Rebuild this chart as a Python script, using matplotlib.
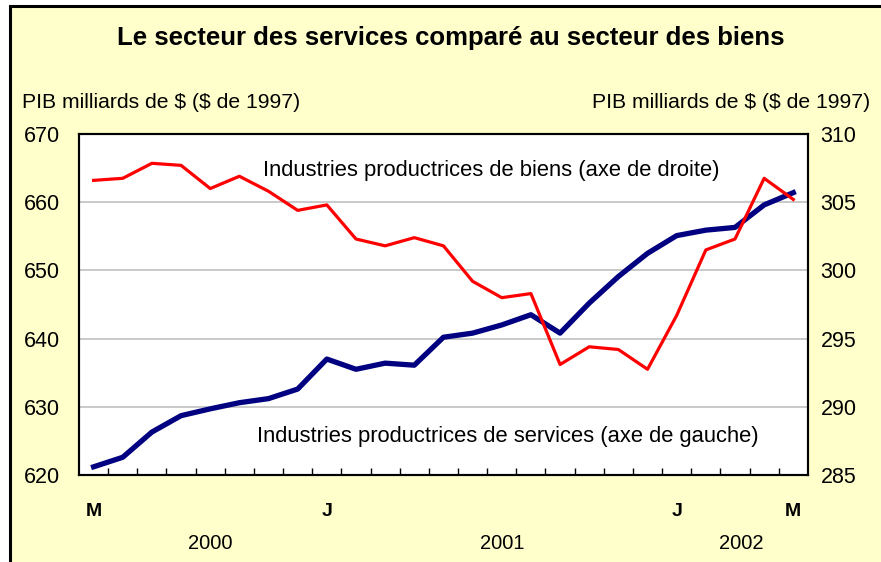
import matplotlib.pyplot as plt
import matplotlib.transforms as mtransforms
from matplotlib.patches import Rectangle
from matplotlib.lines import Line2D

plt.rcParams['font.family'] = ['Liberation Sans', 'DejaVu Sans']

# mai 2000 .. mai 2002, monthly
months = list(range(25))
services = [621.2, 622.6, 626.3, 628.7, 629.7, 630.6, 631.2, 632.6, 637.0,
            635.5, 636.4, 636.1, 640.2, 640.8, 642.0, 643.5, 640.8, 645.2,
            649.1, 652.5, 655.1, 655.9, 656.3, 659.6, 661.4]
biens = [306.6, 306.75, 307.85, 307.7, 306.0, 306.9, 305.8, 304.4, 304.8,
         302.3, 301.8, 302.4, 301.8, 299.2, 298.0, 298.3, 293.1, 294.4,
         294.2, 292.75, 296.7, 301.5, 302.3, 306.75, 305.2]
month_pos = [0, 8, 20, 24]
month_labels = ['M', 'J', 'J', 'M']
year_pos = [4.0, 14.0, 22.2]
year_labels = ['2000', '2001', '2002']

bg = '#FFFFCC'
fig = plt.figure(figsize=(8.81, 5.62), dpi=100, facecolor='white')

# chart area is cropped: yellow panel with a black edge on the left and top only
x0, y1 = 0.0108, 0.9893
fig.add_artist(Rectangle((x0, 0), 1 - x0, y1, transform=fig.transFigure,
                         facecolor=bg, edgecolor='none', zorder=-10))
fig.add_artist(Line2D([x0, x0, 1], [0, y1, y1], transform=fig.transFigure,
                      color='black', linewidth=2.2, solid_joinstyle='miter', zorder=-9))

ax = fig.add_axes([0.0897, 0.1548, 0.8273, 0.6068])
ax2 = ax.twinx()

ax.set_xlim(-0.5, 24.5)
ax.set_ylim(620, 670)
ax2.set_ylim(285, 310)
ax.set_yticks(range(620, 671, 10))
ax2.set_yticks(range(285, 311, 5))
ax.grid(axis='y', color='#C0C0C0', linewidth=1.2)
ax.set_axisbelow(True)

ax.plot(months, services, color='#000080', linewidth=3.8, zorder=3)
ax2.plot(months, biens, color='#FF0000', linewidth=2.3, zorder=3)

for a in (ax, ax2):
    for s in a.spines.values():
        s.set_linewidth(1.5)
ax.tick_params(axis='y', length=0, pad=14, labelsize=15.5)
ax2.tick_params(axis='y', length=0, pad=9, labelsize=15.5)

ax.set_xticks(month_pos)
ax.set_xticklabels(month_labels, fontweight='bold', fontsize=14)
ax.set_xticks([k + 0.5 for k in range(24)], minor=True)
ax.tick_params(axis='x', which='major', length=0, pad=20)
ax.tick_params(axis='x', which='minor', direction='in', length=5, width=1)

trans = mtransforms.blended_transform_factory(ax.transData, ax.transAxes)
for xp, lab in zip(year_pos, year_labels):
    ax.text(xp, -0.2, lab, transform=trans, ha='center', va='center', fontsize=14.5)

ax.text(0.566, 0.893, 'Industries productrices de biens (axe de droite)',
        transform=ax.transAxes, ha='center', va='center', fontsize=15.8)
ax.text(0.588, 0.113, 'Industries productrices de services (axe de gauche)',
        transform=ax.transAxes, ha='center', va='center', fontsize=15.8)

fig.text(0.512, 0.932, 'Le secteur des services comparé au secteur des biens',
         ha='center', va='center', fontsize=18.5, fontweight='bold')
fig.text(0.025, 0.818, r'PIB milliards de \$ (\$ de 1997)', ha='left', va='center', fontsize=15.2)
fig.text(0.988, 0.818, r'PIB milliards de \$ (\$ de 1997)', ha='right', va='center', fontsize=15.2)

fig.savefig('out.png', dpi=100, facecolor='white')
